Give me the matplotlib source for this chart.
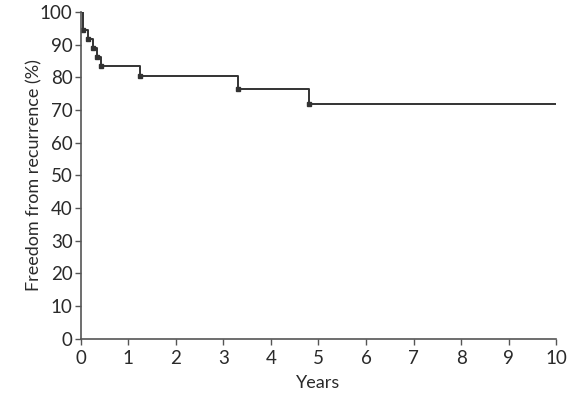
import matplotlib
matplotlib.use("Agg")
import matplotlib.pyplot as plt

# Kaplan-Meier style step data
event_years = [0.0, 0.04, 0.15, 0.25, 0.33, 0.42, 1.25, 3.3, 4.8, 10.0]
freedom_pct = [100, 94.4, 91.7, 88.9, 86.1, 83.3, 80.5, 76.5, 71.8, 71.8]
x_ticks = list(range(0, 11))
y_ticks = list(range(0, 101, 10))

plt.rcParams['font.family'] = ['Lato', 'DejaVu Sans']

fig = plt.figure(figsize=(5.86, 3.94), dpi=100)
ax = fig.add_axes([0.138, 0.140, 0.811, 0.830])

line_col = '#333333'
ax.step(event_years, freedom_pct, where='post', color=line_col, lw=1.4)
# small square marks at each drop
ax.plot(event_years[1:-1], freedom_pct[1:-1], 's', color=line_col, ms=3)

ax.set_xlim(0, 10)
ax.set_ylim(0, 100)
ax.set_xticks(x_ticks)
ax.set_yticks(y_ticks)
ax.tick_params(labelsize=13.5, colors='#555555', labelcolor='#2a2a2a', length=4, width=1)
ax.tick_params(axis='x', pad=4)
ax.tick_params(axis='y', pad=2)

for side in ['top', 'right']:
    ax.spines[side].set_visible(False)
for side in ['left', 'bottom']:
    ax.spines[side].set_color('#555555')
    ax.spines[side].set_linewidth(1.2)

ax.set_xlabel('Years', fontsize=13, color='#2a2a2a', labelpad=6)
ax.set_ylabel('Freedom from recurrence (%)', fontsize=13, color='#2a2a2a', labelpad=-2)

fig.savefig('out.png', dpi=100)
